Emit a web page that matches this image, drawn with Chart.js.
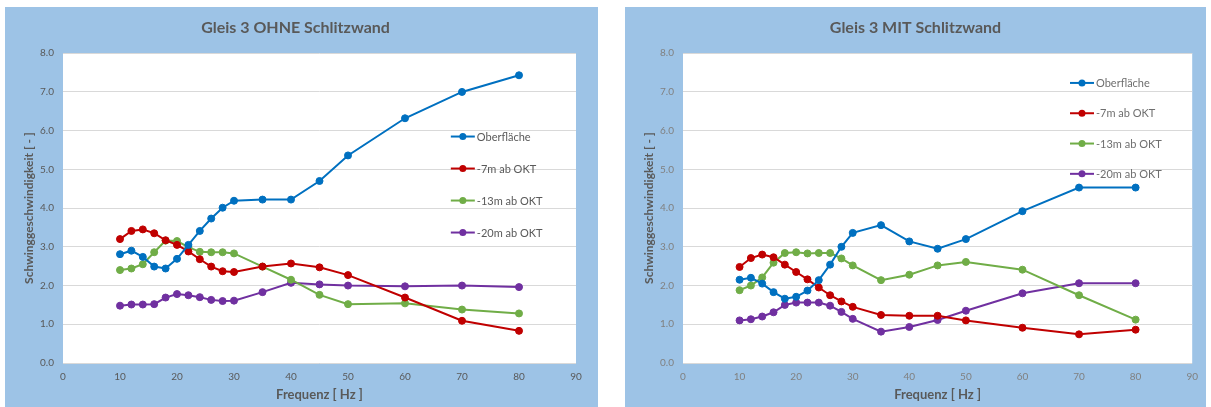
<!DOCTYPE html>
<html>
<head>
<meta charset="utf-8">
<script src="https://cdn.jsdelivr.net/npm/chart.js@4/dist/chart.umd.min.js"></script>
<style>
  html, body { margin: 0; padding: 0; background: #ffffff; }
  body { width: 1211px; height: 407px; position: relative; overflow: hidden; }
  .panel { position: absolute; background: #9DC3E6; }
  #panelOhne { left: 5px; top: 7px; width: 593px; height: 400px; }
  #panelMit { left: 625px; top: 7px; width: 581px; height: 400px; filter: blur(0.5px); }
  canvas { display: block; }
</style>
</head>
<body>
<div class="panel" id="panelOhne"><canvas id="chartOhne" width="593" height="400"></canvas></div>
<div class="panel" id="panelMit"><canvas id="chartMit" width="581" height="400"></canvas></div>
<script>
// Frequenzen der Messpunkte [Hz]
const freqHz = [10, 12, 14, 16, 18, 20, 22, 24, 26, 28, 30, 35, 40, 45, 50, 60, 70, 80];

const seriesLabels = ['Oberfläche', '-7m ab OKT', '-13m ab OKT', '-20m ab OKT'];
const seriesColors = ['#0070C0', '#C00000', '#70AD47', '#7030A0'];

// Gleis 3 OHNE Schlitzwand
const ohneOberflaeche = [2.81, 2.90, 2.74, 2.49, 2.44, 2.69, 3.05, 3.41, 3.73, 4.01, 4.19, 4.22, 4.22, 4.70, 5.36, 6.32, 7.00, 7.43];
const ohne7m          = [3.20, 3.41, 3.45, 3.35, 3.17, 3.05, 2.88, 2.68, 2.49, 2.37, 2.35, 2.49, 2.57, 2.47, 2.27, 1.69, 1.09, 0.83];
const ohne13m         = [2.40, 2.44, 2.55, 2.86, 3.16, 3.15, 2.99, 2.87, 2.86, 2.86, 2.83, 2.49, 2.15, 1.76, 1.52, 1.54, 1.38, 1.28];
const ohne20m         = [1.48, 1.51, 1.51, 1.52, 1.69, 1.78, 1.75, 1.70, 1.63, 1.60, 1.61, 1.83, 2.07, 2.03, 2.00, 1.98, 2.00, 1.96];

// Gleis 3 MIT Schlitzwand
const mitOberflaeche = [2.15, 2.20, 2.05, 1.83, 1.66, 1.71, 1.87, 2.14, 2.54, 3.00, 3.36, 3.56, 3.14, 2.95, 3.20, 3.92, 4.53, 4.53];
const mit7m          = [2.48, 2.71, 2.80, 2.73, 2.54, 2.35, 2.16, 1.95, 1.75, 1.59, 1.45, 1.24, 1.22, 1.22, 1.10, 0.91, 0.74, 0.86];
const mit13m         = [1.88, 2.00, 2.21, 2.59, 2.84, 2.86, 2.83, 2.84, 2.84, 2.70, 2.52, 2.14, 2.28, 2.52, 2.61, 2.41, 1.75, 1.12];
const mit20m         = [1.10, 1.13, 1.20, 1.31, 1.50, 1.56, 1.56, 1.56, 1.48, 1.32, 1.14, 0.81, 0.93, 1.11, 1.35, 1.80, 2.06, 2.06];

const FONT = 'Lato, "Open Sans", "Liberation Sans", sans-serif';
const TEXT = '#595959';

function toPoints(values) {
  return freqHz.map((f, i) => ({ x: f, y: values[i] }));
}

function makeDatasets(seriesList) {
  return seriesList.map((values, i) => ({
    label: seriesLabels[i],
    data: toPoints(values),
    borderColor: seriesColors[i],
    backgroundColor: seriesColors[i],
    pointBackgroundColor: seriesColors[i],
    pointBorderColor: seriesColors[i],
    borderWidth: 2,
    pointRadius: 3.5,
    pointBorderWidth: 1,
    tension: 0
  }));
}

// White plot area on the blue chart background
const plotBackground = {
  id: 'plotBackground',
  beforeDraw(chart) {
    const { ctx, chartArea: a } = chart;
    ctx.save();
    ctx.fillStyle = '#ffffff';
    ctx.fillRect(a.left, a.top, a.right - a.left, a.bottom - a.top);
    ctx.restore();
  }
};

// Legend placed inside the plot area, one entry per row
const innerLegend = {
  id: 'innerLegend',
  afterDatasetsDraw(chart, args, opts) {
    const { ctx, chartArea: a } = chart;
    const x0 = a.left + (a.right - a.left) * opts.xFrac;
    let y = a.top + (a.bottom - a.top) * opts.yFrac;
    ctx.save();
    chart.data.datasets.forEach(ds => {
      ctx.strokeStyle = ds.borderColor;
      ctx.lineWidth = 2;
      ctx.beginPath();
      ctx.moveTo(x0, y);
      ctx.lineTo(x0 + 24, y);
      ctx.stroke();
      ctx.fillStyle = ds.borderColor;
      ctx.beginPath();
      ctx.arc(x0 + 12, y, 3.5, 0, Math.PI * 2);
      ctx.fill();
      ctx.fillStyle = opts.color;
      ctx.font = '11px ' + FONT;
      ctx.textAlign = 'left';
      ctx.textBaseline = 'middle';
      ctx.fillText(ds.label, x0 + 26, y + 0.5);
      y += opts.step;
    });
    ctx.restore();
  }
};

function makeChart(canvasId, title, seriesList, legendOpts, padRight, tickColor) {
  return new Chart(document.getElementById(canvasId), {
    type: 'line',
    data: { datasets: makeDatasets(seriesList) },
    plugins: [plotBackground, innerLegend],
    options: {
      responsive: false,
      animation: false,
      devicePixelRatio: 1,
      layout: { padding: { left: 10, right: padRight, top: 0, bottom: 0 } },
      plugins: {
        legend: { display: false },
        tooltip: { enabled: false },
        title: {
          display: true,
          text: title,
          color: TEXT,
          font: { family: FONT, size: 16, weight: 'bold', lineHeight: 1.2 },
          padding: { top: 11, bottom: 16 }
        },
        innerLegend: legendOpts
      },
      scales: {
        x: {
          type: 'linear',
          min: 0,
          max: 90,
          ticks: { stepSize: 10, color: tickColor, font: { family: FONT, size: 10 }, padding: 8 },
          grid: { display: false, drawTicks: false },
          border: { display: false },
          title: {
            display: true,
            text: 'Frequenz [ Hz ]',
            color: TEXT,
            font: { family: FONT, size: 13, weight: 'bold', lineHeight: 1.2 },
            padding: { top: 0, bottom: 4 }
          },
          afterFit(s) { s.height = 44; }
        },
        y: {
          min: 0,
          max: 8,
          ticks: {
            stepSize: 1,
            color: tickColor,
            font: { family: FONT, size: 10 },
            padding: 9,
            callback: v => Number(v).toFixed(1)
          },
          grid: { color: '#D9D9D9', lineWidth: 1, drawTicks: false },
          border: { display: false },
          title: {
            display: true,
            text: 'Schwinggeschwindigkeit [ - ]',
            color: TEXT,
            font: { family: FONT, size: 12, weight: 'bold', lineHeight: 1.2 },
            padding: { top: 7, bottom: 0 }
          },
          afterFit(s) { s.width = 48; }
        }
      }
    }
  });
}

makeChart('chartOhne', 'Gleis 3 OHNE Schlitzwand',
  [ohneOberflaeche, ohne7m, ohne13m, ohne20m],
  { xFrac: 0.756, yFrac: 0.269, step: 32, color: TEXT }, 22, TEXT);

makeChart('chartMit', 'Gleis 3 MIT Schlitzwand',
  [mitOberflaeche, mit7m, mit13m, mit20m],
  { xFrac: 0.760, yFrac: 0.096, step: 30.3, color: '#6f6f6f' }, 10, '#808080');
</script>
</body>
</html>
